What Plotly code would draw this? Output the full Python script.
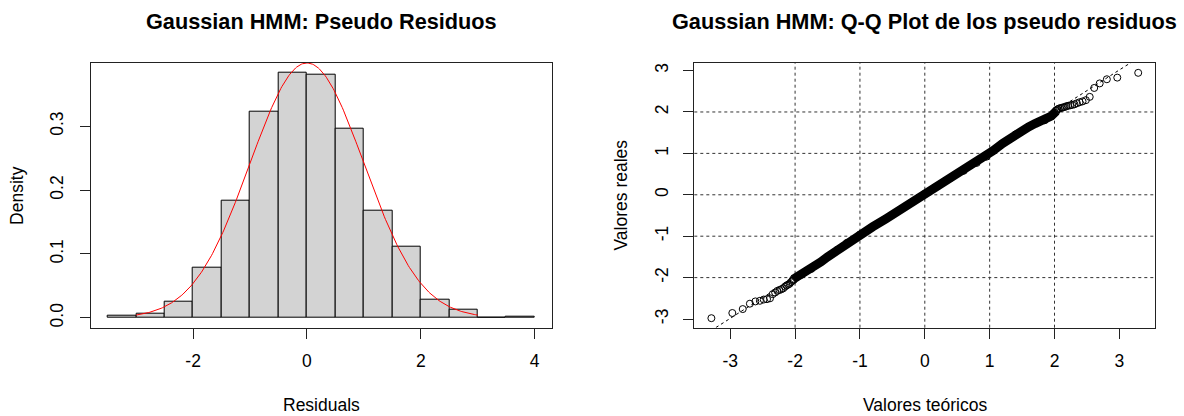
import numpy as np
import plotly.graph_objects as go
from statistics import NormalDist

# ---------------- Histogram of pseudo residuals ----------------
bin_left = [-3.5, -3.0, -2.5, -2.0, -1.5, -1.0, -0.5, 0.0, 0.5, 1.0, 1.5, 2.0, 2.5, 3.0, 3.5]
bin_width = 0.5
density = [0.0035, 0.0073, 0.025, 0.079, 0.184, 0.323, 0.384, 0.381,
           0.296, 0.168, 0.112, 0.028, 0.0125, 0.0, 0.002]

# reference normal density drawn over the histogram
norm_mu, norm_sigma = 0.0, 1.0
curve_from, curve_to = -3.0, 3.0

hist_xticks = [-2, 0, 2, 4]
hist_xticklabels = ["-2", "0", "2", "4"]
hist_yticks = [0.0, 0.1, 0.2, 0.3]
hist_yticklabels = ["0.0", "0.1", "0.2", "0.3"]

# ---------------- Q-Q plot ----------------
n_obs = 1000
# lowest observations, rank 1, 2, ... (sorted ascending)
low_tail = [-2.98, -2.855, -2.76, -2.63, -2.575, -2.56, -2.53, -2.52, -2.50, -2.40,
            -2.36, -2.32, -2.30, -2.28, -2.26, -2.22, -2.19, -2.17, -2.15, -2.11,
            -2.08, -2.06]
# highest observations, largest first
high_tail = [2.945, 2.83, 2.79, 2.69, 2.58, 2.365, 2.285, 2.255, 2.235, 2.21,
             2.185, 2.17, 2.16, 2.15, 2.14, 2.12, 2.11, 2.10, 2.09, 2.08,
             2.06, 2.04]
# dense central part of the sample: theoretical quantile vs observed value
band_theo = [-2.03, -1.90, -1.75, -1.60, -1.50, -1.35, -1.20, -1.00, -0.80, -0.60,
             -0.40, -0.20, 0.00, 0.20, 0.40, 0.60, 0.80, 0.95, 1.05, 1.20,
             1.40, 1.60, 1.70, 1.85, 1.95, 2.00, 2.03]
band_obs = [-2.04, -1.93, -1.79, -1.62, -1.50, -1.33, -1.16, -0.96, -0.77, -0.58,
            -0.38, -0.18, 0.02, 0.21, 0.41, 0.58, 0.77, 0.92, 1.06, 1.24,
            1.46, 1.64, 1.72, 1.80, 1.90, 1.98, 2.02]

# reference line through the quartiles
qqline_intercept, qqline_slope = 0.015, 1.0

qq_ticks = [-3, -2, -1, 0, 1, 2, 3]
qq_ticklabels = ["-3", "-2", "-1", "0", "1", "2", "3"]
qq_grid = [-2, -1, 0, 1, 2]

# --------------------------------------------------------------
W, H = 1184, 416
FONT = "Liberation Sans, Arial, sans-serif"
BASE = 17.5
TITLE = 21.7


def px_x(p):
    return p / W


def px_y(p):
    return 1 - p / H


nd = NormalDist(0, 1)


def theo_q(rank):
    return nd.inv_cdf((rank - 0.5) / n_obs)


fig = go.Figure()

# histogram bars
centers = [b + bin_width / 2 for b in bin_left]
fig.add_trace(go.Bar(
    x=centers, y=density, width=bin_width,
    marker=dict(color="#D3D3D3", line=dict(color="black", width=1)),
    xaxis="x", yaxis="y", showlegend=False, hoverinfo="skip"))

# normal density curve
cx = np.linspace(curve_from, curve_to, 301)
cy = [nd.pdf((v - norm_mu) / norm_sigma) / norm_sigma for v in cx]
fig.add_trace(go.Scatter(
    x=cx, y=cy, mode="lines", line=dict(color="red", width=1),
    xaxis="x", yaxis="y", showlegend=False, hoverinfo="skip"))

# Q-Q: reference line
qx = [-4.0, 4.0]
qy = [qqline_intercept + qqline_slope * v for v in qx]
fig.add_trace(go.Scatter(
    x=qx, y=qy, mode="lines", line=dict(color="black", width=1, dash="dot"),
    xaxis="x2", yaxis="y2", showlegend=False, hoverinfo="skip"))

# Q-Q: dense band of overlapping points
fig.add_trace(go.Scatter(
    x=band_theo, y=band_obs, mode="lines+markers",
    line=dict(color="black", width=9),
    marker=dict(symbol="circle-open", size=7, color="black", line=dict(width=1)),
    xaxis="x2", yaxis="y2", showlegend=False, hoverinfo="skip"))

# Q-Q: individual tail points
tail_x = [theo_q(i + 1) for i in range(len(low_tail))] + \
         [theo_q(n_obs - i) for i in range(len(high_tail))]
tail_y = low_tail + high_tail
fig.add_trace(go.Scatter(
    x=tail_x, y=tail_y, mode="markers",
    marker=dict(symbol="circle-open", size=7, color="black", line=dict(width=1)),
    xaxis="x2", yaxis="y2", showlegend=False, hoverinfo="skip"))

# dotted grid on the Q-Q panel
shapes = []
for g in qq_grid:
    shapes.append(dict(type="line", xref="x2", yref="y2 domain", x0=g, x1=g, y0=0, y1=1,
                       line=dict(color="#333", width=1, dash="dot"), layer="below"))
    shapes.append(dict(type="line", xref="x2 domain", yref="y2", x0=0, x1=1, y0=g, y1=g,
                       line=dict(color="#333", width=1, dash="dot"), layer="below"))

axis_common = dict(
    showline=True, mirror=True, linecolor="#222", linewidth=1,
    ticks="outside", ticklen=10, tickwidth=1, tickcolor="#222",
    showgrid=False, zeroline=False,
    tickfont=dict(family=FONT, size=BASE, color="black"),
)

y_top, y_bot = px_y(62.7), px_y(327.7)

fig.update_layout(
    width=W, height=H, margin=dict(l=0, r=0, t=0, b=0),
    paper_bgcolor="white", plot_bgcolor="white",
    bargap=0, shapes=shapes,
    xaxis=dict(domain=[px_x(90.7), px_x(551.7)], range=[-3.8, 4.3],
               tickvals=hist_xticks, ticktext=hist_xticklabels, ticklabelstandoff=7,
               anchor="y", **axis_common),
    yaxis=dict(domain=[y_bot, y_top], range=[-0.01536, 0.39936],
               tickvals=hist_yticks, ticktext=hist_yticklabels, tickangle=-90,
               ticklabelstandoff=10, anchor="x", **axis_common),
    xaxis2=dict(domain=[px_x(694.3), px_x(1155.3)], range=[-3.554, 3.554],
                tickvals=qq_ticks, ticktext=qq_ticklabels, ticklabelstandoff=7,
                anchor="y2", **axis_common),
    yaxis2=dict(domain=[y_bot, y_top], range=[-3.21, 3.19],
                tickvals=qq_ticks, ticktext=qq_ticklabels, tickangle=-90,
                ticklabelstandoff=8, anchor="x2", **axis_common),
    annotations=[
        dict(text="<b>Gaussian HMM: Pseudo Residuos</b>", x=px_x(321.2), y=px_y(21),
             xref="paper", yref="paper", showarrow=False, xanchor="center", yanchor="middle",
             font=dict(family=FONT, size=TITLE, color="black")),
        dict(text="<b>Gaussian HMM: Q-Q Plot de los pseudo residuos</b>", x=px_x(924.8), y=px_y(21),
             xref="paper", yref="paper", showarrow=False, xanchor="center", yanchor="middle",
             font=dict(family=FONT, size=TITLE, color="black")),
        dict(text="Residuals", x=px_x(321.2), y=px_y(405), xref="paper", yref="paper",
             showarrow=False, xanchor="center", yanchor="middle",
             font=dict(family=FONT, size=BASE, color="black")),
        dict(text="Valores teóricos", x=px_x(924.8), y=px_y(405), xref="paper", yref="paper",
             showarrow=False, xanchor="center", yanchor="middle",
             font=dict(family=FONT, size=BASE, color="black")),
        dict(text="Density", x=px_x(16.7), y=px_y(195.2), xref="paper", yref="paper",
             showarrow=False, xanchor="center", yanchor="middle", textangle=-90,
             font=dict(family=FONT, size=BASE, color="black")),
        dict(text="Valores reales", x=px_x(621.3), y=px_y(195.2), xref="paper", yref="paper",
             showarrow=False, xanchor="center", yanchor="middle", textangle=-90,
             font=dict(family=FONT, size=BASE, color="black")),
    ],
)

fig.write_html("out.html")
